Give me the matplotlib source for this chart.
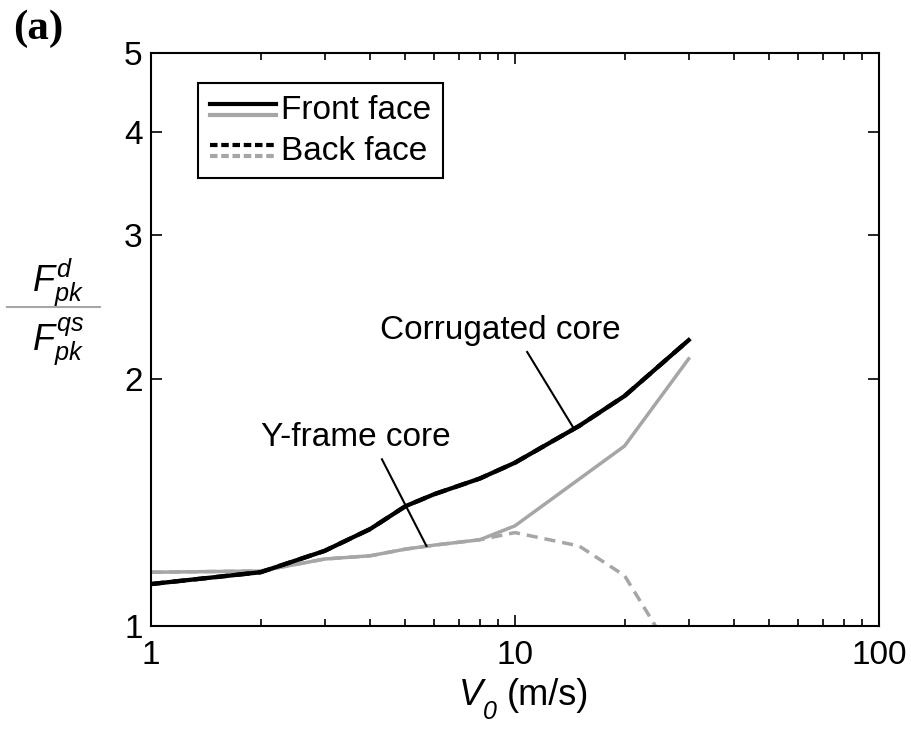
import matplotlib
matplotlib.use("Agg")
import matplotlib.pyplot as plt
from matplotlib.lines import Line2D
from matplotlib.legend_handler import HandlerBase
from matplotlib.ticker import FixedLocator, LogLocator, NullFormatter, NullLocator

plt.rcParams['font.family'] = ['Liberation Sans', 'DejaVu Sans']
plt.rcParams['mathtext.fontset'] = 'custom'
plt.rcParams['mathtext.it'] = 'Liberation Sans:italic'
plt.rcParams['mathtext.rm'] = 'Liberation Sans'

# impact velocity (m/s)
v0 = [1, 2, 3, 4, 5, 6, 8, 10, 15, 20, 30]
# corrugated core, front and back faces
corr_front = [1.125, 1.163, 1.235, 1.313, 1.40, 1.448, 1.513, 1.582, 1.754, 1.908, 2.232]
corr_back = [1.125, 1.163, 1.235, 1.313, 1.40, 1.448, 1.513, 1.582, 1.754, 1.908, 2.232]
# Y-frame core
v0_y = [1, 2, 3, 4, 5, 6, 8, 10, 20, 30]
yframe_front = [1.163, 1.167, 1.207, 1.218, 1.241, 1.255, 1.274, 1.325, 1.658, 2.118]
v0_yb = [1, 2, 3, 4, 5, 6, 8, 10, 15, 20, 25]
yframe_back = [1.163, 1.167, 1.207, 1.218, 1.241, 1.255, 1.274, 1.30, 1.252, 1.152, 0.98]

BLACK = '#000000'
GRAY = '#a6a6a6'


class Key:
    def __init__(self, ls):
        self.ls = ls


class KeyHandler(HandlerBase):
    # two short lines stacked (black over gray) in one legend slot
    def create_artists(self, legend, orig_handle, xdescent, ydescent,
                       width, height, fontsize, trans):
        ls = orig_handle.ls
        top = Line2D([0, width], [height * 0.78, height * 0.78], color=BLACK,
                     lw=3.0, linestyle=ls, transform=trans)
        bot = Line2D([0, width], [height * 0.22, height * 0.22], color=GRAY,
                     lw=3.0, linestyle=ls, transform=trans)
        return [top, bot]


fig = plt.figure(figsize=(9.12, 7.29), dpi=100)
ax = fig.add_axes([0.1656, 0.1413, 0.7982, 0.786])

ax.plot(v0_yb, yframe_back, color=GRAY, lw=2.5, linestyle=(0, (3.2, 2)))
ax.plot(v0_y, yframe_front, color=GRAY, lw=2.5)
ax.plot(v0, corr_back, color=BLACK, lw=3.1, linestyle=(0, (3, 2)))
ax.plot(v0, corr_front, color=BLACK, lw=3.1)

ax.set_xscale('log')
ax.set_yscale('log')
ax.set_xlim(1, 100)
ax.set_ylim(1, 5)
ax.xaxis.set_major_locator(FixedLocator([1, 10, 100]))
ax.set_xticklabels(['1', '10', '100'])
ax.xaxis.set_minor_locator(LogLocator(base=10, subs=range(2, 10)))
ax.xaxis.set_minor_formatter(NullFormatter())
ax.yaxis.set_major_locator(FixedLocator([1, 2, 3, 4, 5]))
ax.set_yticklabels(['1', '2', '3', '4', '5'])
ax.yaxis.set_minor_locator(NullLocator())
ax.yaxis.set_minor_formatter(NullFormatter())

ax.tick_params(which='both', direction='in', top=True, right=True,
               labelsize=24, width=1.2)
ax.tick_params(axis='x', pad=10)
ax.tick_params(axis='y', pad=6)
ax.tick_params(which='major', length=8)
ax.tick_params(which='minor', length=5)
for sp in ax.spines.values():
    sp.set_linewidth(1.5)

# callout labels
ax.plot([10.8, 14.41], [2.159, 1.750], color=BLACK, lw=1.5)
ax.text(9.10, 2.296, 'Corrugated core', fontsize=24, ha='center', va='center')
ax.plot([4.31, 5.71], [1.597, 1.252], color=BLACK, lw=1.5)
ax.text(3.65, 1.696, 'Y-frame core', fontsize=24, ha='center', va='center')

leg = ax.legend([Key('-'), Key((0, (1.8, 0.9)))], ['Front face', 'Back face'],
                handler_map={Key: KeyHandler()},
                loc='upper left', bbox_to_anchor=(0.0646, 0.9476),
                borderaxespad=0, fontsize=24, frameon=True, fancybox=False,
                handlelength=2.0, handleheight=0.5, handletextpad=0.15,
                borderpad=0.35, labelspacing=0.3, framealpha=1)
leg.get_frame().set_edgecolor(BLACK)
leg.get_frame().set_linewidth(1.5)

# x label: italic V with italic subscript 0
fig.text(0.503, 0.0466, 'V', fontsize=26, style='italic', ha='left', va='center')
fig.text(0.529, 0.0237, '0', fontsize=18, style='italic', ha='left', va='center')
fig.text(0.556, 0.0466, '(m/s)', fontsize=26, ha='left', va='center')

# y label: stacked ratio
fig.text(0.064, 0.613, r'$F^{d}_{pk}$', fontsize=26, ha='center', va='center')
fig.text(0.064, 0.532, r'$F^{qs}_{pk}$', fontsize=26, ha='center', va='center')
fig.add_artist(Line2D([0.008, 0.110], [0.579, 0.579], color=GRAY, lw=1.5,
                      transform=fig.transFigure))

fig.text(0.014, 0.961, '(a)', fontsize=31, fontweight='bold',
         family='Liberation Serif', ha='left', va='center')

fig.savefig('out.png', dpi=100)
